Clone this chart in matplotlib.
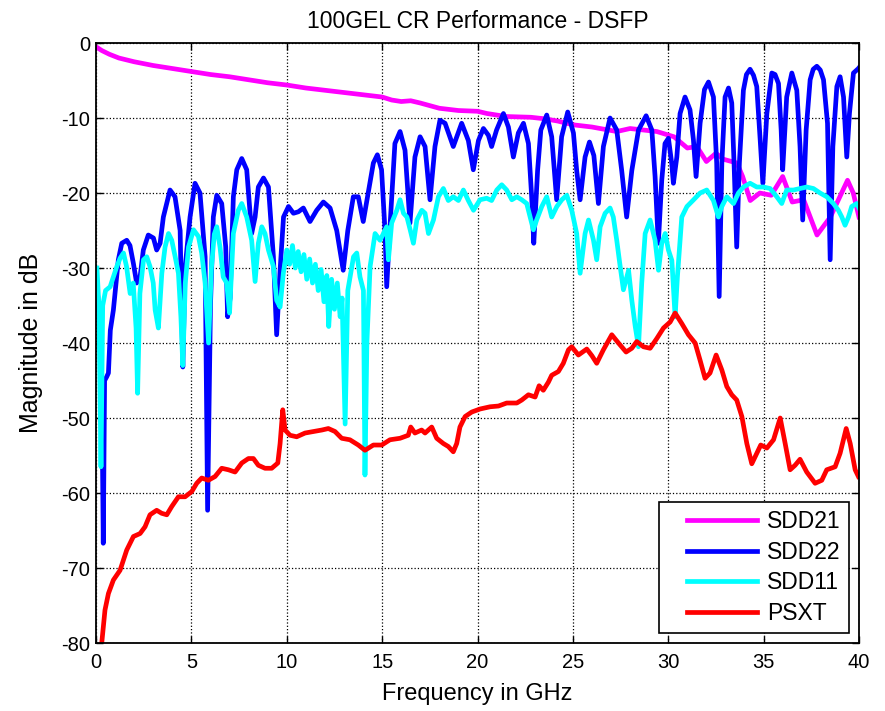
import matplotlib
matplotlib.use("Agg")
import matplotlib.pyplot as plt
import numpy as np
from matplotlib.legend_handler import HandlerLine2D

plt.rcParams['font.family'] = ['Liberation Sans', 'DejaVu Sans']

title = "100GEL CR Performance - DSFP"
xlabel = "Frequency in GHz"
ylabel = "Magnitude in dB"
series_names = ["SDD21", "SDD22", "SDD11", "PSXT"]
series_colors = ["#ff00ff", "#0000ff", "#00ffff", "#ff0000"]
xticks = [0, 5, 10, 15, 20, 25, 30, 35, 40]
yticks = [0, -10, -20, -30, -40, -50, -60, -70, -80]

sdd21_f = [0, 0.3, 0.7, 1.2, 2.0, 3, 4, 5, 6, 7, 8, 9, 10, 11, 12, 13, 14, 15, 15.5, 16, 16.5, 17,
           18, 19, 20, 20.5, 21.5, 22.8, 23.5, 24.2, 25, 26, 27.3, 28, 29.4, 30.3, 31, 31.5, 32,
           32.5, 32.9, 33.6, 33.9, 34.3, 34.8, 35.4, 36.0, 36.5, 37.1, 37.8, 38.5, 39.4, 39.7, 40]
sdd21_db = [-0.5, -1.0, -1.5, -2.0, -2.5, -3.0, -3.4, -3.8, -4.2, -4.5, -4.9, -5.3, -5.6, -6.0,
            -6.3, -6.6, -6.9, -7.2, -7.6, -7.8, -7.7, -8.0, -8.7, -9.0, -9.1, -9.4, -9.8, -9.9,
            -10.1, -10.4, -10.9, -11.2, -11.8, -11.4, -11.8, -12.5, -14.0, -13.8, -15.8, -14.7,
            -15.5, -16.0, -17.8, -21.0, -20.0, -20.3, -17.8, -21.2, -20.9, -25.6, -23.2, -18.3,
            -20.0, -23.2]

sdd22_f = [0.1, 0.3, 0.38, 0.45, 0.56, 0.65, 0.75, 0.91, 1.17, 1.35, 1.61, 1.78, 1.96, 2.13, 2.31,
           2.48, 2.74, 3.01, 3.18, 3.36, 3.53, 3.88, 4.14, 4.41, 4.55, 4.67, 4.93, 5.19, 5.45, 5.72,
           5.85, 6.0, 6.15, 6.33, 6.59, 6.8, 6.9, 7.03, 7.2, 7.38, 7.64, 7.90, 8.16, 8.34, 8.51,
           8.78, 9.04, 9.3, 9.47, 9.65, 9.83, 10.09, 10.35, 10.61, 10.87, 11.22, 11.57, 11.92,
           12.27, 12.62, 12.96, 13.2, 13.49, 13.75, 14.01, 14.27, 14.54, 14.75, 14.97, 15.15,
           15.24, 15.4, 15.67, 15.94, 16.2, 16.46, 16.72, 16.99, 17.25, 17.51, 17.77, 18.03, 18.3,
           18.73, 19.17, 19.52, 19.78, 20.05, 20.31, 20.57, 20.74, 21.0, 21.36, 21.62, 21.88,
           22.14, 22.41, 22.67, 22.84, 22.95, 23.15, 23.32, 23.63, 23.89, 24.15, 24.41, 24.73,
           25.03, 25.2, 25.38, 25.64, 25.87, 26.1, 26.34, 26.6, 26.95, 27.3, 27.56, 27.82, 28.09,
           28.44, 28.84, 29.14, 29.31, 29.48, 29.66, 29.83, 30.01, 30.18, 30.27, 30.45, 30.62,
           30.88, 31.14, 31.32, 31.46, 31.67, 31.9, 32.11, 32.37, 32.54, 32.67, 32.81, 32.98, 33.16,
           33.33, 33.45, 33.59, 33.73, 33.94, 34.1, 34.29, 34.47, 34.64, 34.82, 34.96, 35.17, 35.43,
           35.6, 35.78, 35.92, 36.0, 36.21, 36.48, 36.74, 36.91, 37.05, 37.23, 37.44, 37.6, 37.79,
           37.97, 38.14, 38.35, 38.49, 38.63, 38.84, 39.01, 39.19, 39.36, 39.5, 39.71, 39.97, 40]
sdd22_db = [-34, -45, -66.7, -45, -44.5, -44, -38.3, -35.6, -28.9, -26.7, -26.3, -27, -29.4, -32.0,
            -31.2, -27.6, -25.6, -26.0, -27.6, -26.7, -23.2, -19.6, -20.5, -25.0, -43.2, -30,
            -23.2, -18.7, -20.0, -28.5, -62.3, -35, -23.2, -20.3, -21.4, -27.2, -36.5, -34, -20.5,
            -16.9, -15.4, -16.9, -25.4, -23.2, -19.2, -18.0, -19.2, -28.5, -38.9, -30.3, -23.2,
            -21.8, -22.7, -22.5, -22.0, -23.8, -22.3, -21.2, -22.0, -25.0, -30.3, -25, -20.5,
            -20.5, -23.8, -20, -16.0, -14.9, -16.9, -25, -32.5, -25, -13.4, -11.8, -14.3, -24.0,
            -15.2, -12.5, -13.8, -20.9, -13.8, -10.3, -10.7, -13.8, -10.7, -13, -16.9, -13, -11.4,
            -12.3, -13.8, -11.6, -9.4, -11.2, -15.2, -12, -10.7, -13.4, -20.5, -26.7, -17, -11.6,
            -9.6, -12.5, -20.9, -12.5, -9.2, -12, -17, -20.9, -15.2, -13.2, -15, -21.4, -13.8,
            -10.0, -11.6, -17, -23.2, -17, -11.6, -9.7, -11.6, -17.8, -26.7, -18.3, -13.4, -12.7,
            -16, -18.7, -15.2, -9.4, -7.2, -8.9, -12.9, -17.8, -10.7, -6.2, -5.2, -7.2, -16.0, -33.8,
            -16.0, -7.2, -6.0, -8.0, -16.0, -27.2, -16.0, -6.3, -4.2, -3.5, -4.3, -5.8, -12.9,
            -18.7, -9.4, -4.0, -4.2, -5.4, -11.6, -16.9, -7.2, -4.0, -6.3, -13.8, -23.6, -11.6,
            -4.9, -3.5, -3.1, -3.6, -4.9, -10.7, -28.9, -13.8, -5.8, -4.5, -7.2, -15.2, -9.4,
            -4.0, -3.4, -3.3]

sdd11_f = [0.05, 0.15, 0.26, 0.35, 0.5, 0.74, 0.91, 1.09, 1.26, 1.44, 1.6, 1.79, 1.95, 2.1, 2.18,
           2.3, 2.49, 2.66, 2.83, 3.0, 3.1, 3.27, 3.45, 3.62, 3.8, 3.97, 4.15, 4.32, 4.45, 4.55,
           4.68, 4.85, 5.11, 5.37, 5.54, 5.72, 5.9, 6.05, 6.2, 6.33, 6.5, 6.67, 6.85, 7.0, 7.2,
           7.46, 7.64, 7.9, 8.16, 8.34, 8.51, 8.69, 8.86, 9.04, 9.3, 9.47, 9.65, 9.82, 10.0,
           10.15, 10.3, 10.45, 10.6, 10.75, 10.9, 11.05, 11.2, 11.35, 11.5, 11.65, 11.8, 11.95,
           12.1, 12.2, 12.35, 12.5, 12.65, 12.8, 12.9,
           13.06, 13.2, 13.5, 13.67, 13.84, 14.02, 14.1, 14.2, 14.37, 14.63, 14.89, 15.07, 15.24,
           15.33, 15.5, 15.77, 15.94, 16.12, 16.3, 16.47, 16.64, 16.82, 17.08, 17.25, 17.43,
           17.69, 17.95, 18.21, 18.47, 18.73, 19.0, 19.26, 19.52, 19.79, 20.13, 20.48, 20.74,
           21.01, 21.27, 21.53, 21.8, 22.06, 22.32, 22.58, 22.76, 22.93, 23.1, 23.37, 23.63,
           23.89, 24.16, 24.42, 24.68, 24.94, 25.2, 25.38, 25.64, 25.82, 26.08, 26.25, 26.43,
           26.69, 26.95, 27.12, 27.3, 27.48, 27.65, 27.92, 28.09, 28.27, 28.44, 28.61, 28.79,
           29.05, 29.31, 29.49, 29.66, 29.84, 30.01, 30.19, 30.36, 30.48, 30.71, 30.98, 31.33,
           31.67, 32.02, 32.37, 32.63, 32.81, 33.07, 33.42, 33.68, 33.94, 34.29, 34.64, 34.99,
           35.34, 35.69, 35.95, 36.21, 36.56, 36.91, 37.26, 37.61, 37.96, 38.31, 38.66, 38.92,
           39.1, 39.27, 39.45, 39.62, 39.88, 40]
sdd11_db = [-30, -35, -56.5, -35, -33, -32.5, -31.2, -29.8, -28.7, -28.0, -29.8, -33.4, -32, -38,
            -46.7, -33.4, -28.9, -28.5, -29.8, -32, -35.6, -38.0, -30.7, -27.2, -25.4, -26.3,
            -28.5, -30.7, -36.5, -43, -32, -27.2, -24.9, -25.8, -28, -32, -40, -30, -25.5, -24.5,
            -27.2, -31.2, -32, -36, -25.4, -22.3, -21.4, -23.2, -26.3, -31.8, -26.7, -24.5, -25.4,
            -27.6, -29.8, -34.3, -35.2, -30.7, -27.6,
            -29.5, -27.0, -30.0, -27.8, -30.5, -28.2, -31.5, -28.8, -32.0, -29.5, -33.0, -30.2,
            -34.5, -31.0, -37.8, -31.5, -35.5, -32.0, -36.5, -34.0,
            -50.8, -33, -28.5, -28.0, -31.2, -33,
            -57.6, -40, -29.8, -25.4, -26.3, -25.4, -24.5, -28.9, -24.0, -22.3, -20.9, -22.7,
            -23.2, -24.9, -26.7, -23.6, -22.3, -22.7, -25.4, -23.6, -20.5, -19.4, -21.0, -20.5,
            -21.0, -19.6, -21.0, -22.3, -20.9, -20.7, -21.0, -19.6, -18.9, -19.6, -20.9, -20.5,
            -20.9, -21.4, -23.2, -24.9, -23.6, -21.8, -20.5, -23.2, -21.8, -20.9, -20.3, -22.3,
            -25.4, -30.7, -25.4, -23.6, -26.3, -28.9, -24.5, -22.7, -22.0, -23.2, -26.3, -29.8,
            -32.9, -30.3, -34.3, -37.8, -40.5, -32.0, -25.4, -23.6, -26.3, -30.3, -26.7, -25.4,
            -27.6, -29.0, -36.5, -31.2, -23.2, -21.8, -20.9, -20.0, -19.6, -21.0, -23.2, -21.8,
            -20.5, -21.4, -20.0, -19.2, -18.7, -19.2, -19.2, -19.4, -20.5, -21.4, -19.6, -19.6,
            -19.4, -19.2, -19.4, -20.0, -20.5, -21.4, -22.3, -23.2, -24.3, -23.2, -21.8, -21.4,
            -22.0]

psxt_f = [0.3, 0.47, 0.65, 0.91, 1.26, 1.61, 1.96, 2.31, 2.57, 2.83, 3.18, 3.44, 3.71, 3.97, 4.32,
          4.67, 5.02, 5.28, 5.54, 5.89, 6.24, 6.59, 6.94, 7.29, 7.64, 7.99, 8.25, 8.51, 8.86, 9.21,
          9.53, 9.65, 9.79, 9.91, 10.17, 10.52, 10.96, 11.4, 11.84, 12.18, 12.53, 12.88, 13.31,
          13.75, 14.1, 14.54, 14.98, 15.41, 15.94, 16.37, 16.5, 16.72, 17.07, 17.25, 17.6, 17.86,
          18.21, 18.47, 18.73, 18.91, 19.08, 19.35, 19.7, 20.13, 20.66, 21.1, 21.53, 22.06, 22.32,
          22.67, 23.02, 23.23, 23.45, 23.72, 23.89, 24.24, 24.5, 24.77, 24.94, 25.29, 25.73,
          26.0, 26.25, 26.6, 27.04, 27.39, 27.79, 28.09, 28.35, 28.7, 29.05, 29.4, 29.75, 30.1,
          30.36, 30.71, 31.06, 31.41, 31.67, 31.93, 32.19, 32.51, 32.81, 33.07, 33.33, 33.59,
          33.86, 34.12, 34.38, 34.64, 34.85, 35.17, 35.52, 35.87, 36.13, 36.39, 36.65, 36.91,
          37.26, 37.7, 38.05, 38.31, 38.75, 39.01, 39.33, 39.54, 39.8, 39.97]
psxt_db = [-80, -75.6, -73.4, -71.6, -70.3, -67.6, -65.8, -65.4, -64.5, -62.9, -62.3, -62.7, -62.9,
           -61.8, -60.5, -60.5, -59.8, -58.7, -58.0, -58.3, -57.8, -56.7, -56.9, -57.2, -56.0,
           -55.4, -55.4, -56.3, -56.7, -56.7, -56.0, -53.4, -48.9, -51.6, -52.3, -52.5, -52.0,
           -51.8, -51.6, -51.4, -51.8, -52.7, -52.9, -53.6, -54.3, -53.6, -53.6, -52.9, -52.7,
           -52.3, -51.2, -52.0, -51.6, -52.0, -51.2, -52.7, -53.4, -53.8, -54.5, -53.4, -51.2,
           -49.8, -49.2, -48.8, -48.5, -48.4, -48.0, -48.0, -47.6, -46.9, -47.2, -45.7, -46.3,
           -45.2, -44.3, -43.8, -42.7, -40.9, -40.5, -41.6, -40.8, -41.7, -42.7, -40.9, -38.9,
           -40.0, -41.2, -40.7, -39.8, -40.5, -40.7, -39.4, -38.0, -37.2, -36.0, -37.4, -38.9,
           -40.0, -42.3, -44.7, -44.0, -41.6, -43.6, -45.8, -46.9, -47.6, -49.8, -53.4, -56.1,
           -54.7, -53.6, -54.0, -52.9, -50.0, -53.4, -56.9, -56.3, -55.5, -57.2, -58.7, -58.3,
           -56.9, -56.5, -54.7, -51.4, -53.4, -56.9, -57.8]


class InsetLineHandler(HandlerLine2D):
    """Legend line that leaves a gap on its left, like MATLAB legends."""
    def get_xdata(self, legend, xdescent, ydescent, width, height, fontsize):
        xd, xdm = super().get_xdata(legend, xdescent, ydescent, width, height, fontsize)
        xd = np.array([-xdescent + 0.22 * width, -xdescent + width])
        return xd, xdm


fig = plt.figure(figsize=(8.85, 7.11), dpi=100)
ax = fig.add_axes([0.1085, 0.0956, 0.8621, 0.8439])

lw = 3.4
ax.plot(sdd21_f, sdd21_db, color=series_colors[0], lw=lw, label=series_names[0])
ax.plot(sdd22_f, sdd22_db, color=series_colors[1], lw=lw, label=series_names[1])
ax.plot(sdd11_f, sdd11_db, color=series_colors[2], lw=lw, label=series_names[2])
ax.plot(psxt_f, psxt_db, color=series_colors[3], lw=lw, label=series_names[3])

ax.set_xlim(0, 40)
ax.set_ylim(-80, 0)
ax.set_xticks(xticks)
ax.set_yticks(yticks)
ax.set_xticklabels([str(v) for v in xticks])
ax.set_yticklabels([str(v) for v in yticks])
ax.grid(True, color='black', linestyle=':', linewidth=0.9)
ax.tick_params(direction='in', top=True, right=True, labelsize=14.5, length=5, width=1)
ax.tick_params(axis='x', pad=7)
ax.tick_params(axis='y', pad=4)
for s in ax.spines.values():
    s.set_linewidth(1.3)

ax.set_title(title, fontsize=16.5, pad=11)
ax.set_xlabel(xlabel, fontsize=17, labelpad=8)
ax.set_ylabel(ylabel, fontsize=18, labelpad=13)

leg = ax.legend(loc='lower right', fontsize=16.5, frameon=True, fancybox=False,
                edgecolor='black', framealpha=1, handlelength=3.9, borderpad=0.35,
                labelspacing=0.33, borderaxespad=0.45, handletextpad=0.45,
                handler_map={plt.Line2D: InsetLineHandler()})
leg.get_frame().set_linewidth(1.2)

fig.savefig("out.png", dpi=100)
